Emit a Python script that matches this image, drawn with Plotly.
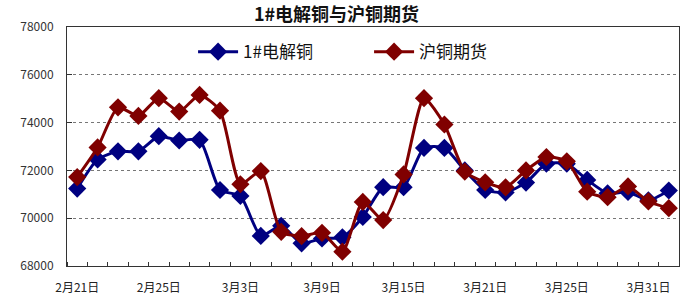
import plotly.graph_objects as go

dates = ["2月21日", "2月22日", "2月23日", "2月24日", "2月25日", "2月28日", "3月1日", "3月2日",
         "3月3日", "3月4日", "3月7日", "3月8日", "3月9日", "3月10日", "3月11日", "3月14日",
         "3月15日", "3月16日", "3月17日", "3月18日", "3月21日", "3月22日", "3月23日", "3月24日",
         "3月25日", "3月28日", "3月29日", "3月30日", "3月31日", "4月1日"]

cathode = [71240, 72460, 72800, 72800, 73430, 73250, 73280, 71180, 70930, 69260,
           69680, 68950, 69150, 69200, 70050, 71300, 71300, 72940, 72940, 72000,
           71180, 71080, 71490, 72280, 72280, 71600, 71040, 71100, 70750, 71160]

futures = [71720, 72960, 74640, 74280, 75020, 74460, 75160, 74500, 71420, 71970,
           69430, 69250, 69390, 68600, 70680, 69920, 71830, 75020, 73920, 71950,
           71500, 71290, 72000, 72560, 72380, 71110, 70880, 71330, 70700, 70420]

label_every = 4
x = list(range(len(dates)))
tickvals = x[::label_every]
ticktext = dates[::label_every]

fig = go.Figure()
fig.add_trace(go.Scatter(
    x=x, y=cathode, name="1#电解铜", mode="lines+markers",
    line=dict(color="#000080", width=3, shape="spline", smoothing=0.6),
    marker=dict(symbol="diamond", size=14, color="#000080"),
))
fig.add_trace(go.Scatter(
    x=x, y=futures, name="沪铜期货", mode="lines+markers",
    line=dict(color="#800000", width=3, shape="spline", smoothing=0.6),
    marker=dict(symbol="diamond", size=14, color="#800000"),
))

fig.update_layout(
    width=687, height=307,
    margin=dict(l=67, r=8, t=27, b=41),
    paper_bgcolor="white", plot_bgcolor="white",
    font=dict(family="Noto Sans CJK SC", color="#222"),
    title=dict(text="<b>1#电解铜与沪铜期货</b>", x=336.5 / 687, xanchor="center",
               y=1 - 15 / 307, yanchor="middle", font=dict(size=18, color="#111")),
    showlegend=True,
    legend=dict(orientation="h", x=0.206, y=0.895, xanchor="left", yanchor="middle",
                font=dict(size=17, color="#111"), bgcolor="rgba(0,0,0,0)",
                entrywidth=121, itemwidth=40),
)

fig.update_xaxes(
    range=[-0.5, len(dates) - 0.5],
    tickmode="array", tickvals=tickvals, ticktext=ticktext, ticks="",
    tickfont=dict(size=12, color="#222"), ticklabelstandoff=11,
    showline=True, linecolor="#333", linewidth=1, mirror=True,
    showgrid=False, zeroline=False,
    minor=dict(tickmode="array", tickvals=[i - 0.5 for i in range(len(dates) + 1)],
               ticks="inside", ticklen=4, tickcolor="#333", showgrid=False),
)
fig.update_yaxes(
    range=[68000, 78000], tickmode="linear", tick0=68000, dtick=2000,
    tickformat="d",
    ticks="inside", ticklen=5, tickcolor="#333",
    tickfont=dict(size=12, color="#333"), ticklabelstandoff=10,
    showline=True, linecolor="#333", linewidth=1, mirror=True,
    showgrid=True, gridcolor="#777", griddash="dot", gridwidth=1,
    zeroline=False,
)

fig.write_html("out.html")
